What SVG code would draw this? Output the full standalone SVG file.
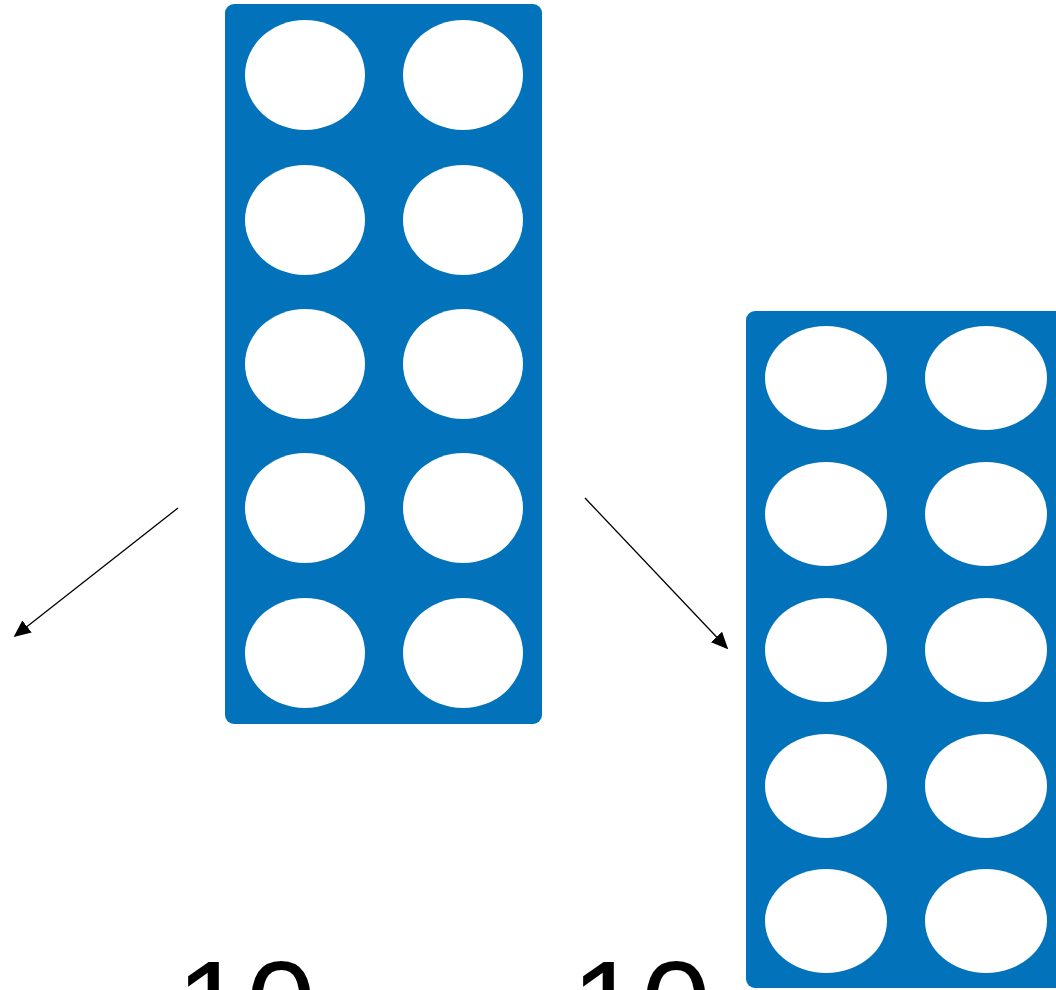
<svg xmlns="http://www.w3.org/2000/svg" width="1056" height="990" viewBox="0 0 1056 990">
<defs>
<style>
.panel{fill:#0272BA}
.hole{fill:#FFFFFF}
.conn{stroke:#000;stroke-width:1.3;fill:none}
.num{font-family:"Liberation Sans",Arial,sans-serif;font-size:126px;fill:#000}
</style>
<marker id="ah" viewBox="0 0 10 10" refX="9" refY="5" markerWidth="17" markerHeight="17" markerUnits="userSpaceOnUse" orient="auto">
<path d="M0,0.5 L10,5 L0,9.5 z" fill="#000"/>
</marker>
</defs>
<rect width="1056" height="990" fill="#fff"/>
<g id="frame-left">
<rect class="panel" x="225" y="4" width="317" height="720" rx="9"/>
<ellipse class="hole" cx="305" cy="75" rx="60" ry="55"/>
<ellipse class="hole" cx="463" cy="75" rx="60" ry="55"/>
<ellipse class="hole" cx="305" cy="220" rx="60" ry="55"/>
<ellipse class="hole" cx="463" cy="220" rx="60" ry="55"/>
<ellipse class="hole" cx="305" cy="364" rx="60" ry="55"/>
<ellipse class="hole" cx="463" cy="364" rx="60" ry="55"/>
<ellipse class="hole" cx="305" cy="508" rx="60" ry="55"/>
<ellipse class="hole" cx="463" cy="508" rx="60" ry="55"/>
<ellipse class="hole" cx="305" cy="653" rx="60" ry="55"/>
<ellipse class="hole" cx="463" cy="653" rx="60" ry="55"/>
</g>
<g id="frame-right">
<rect class="panel" x="746" y="311" width="330" height="677" rx="9"/>
<ellipse class="hole" cx="826" cy="378" rx="61" ry="52"/>
<ellipse class="hole" cx="986" cy="378" rx="61" ry="52"/>
<ellipse class="hole" cx="826" cy="514" rx="61" ry="52"/>
<ellipse class="hole" cx="986" cy="514" rx="61" ry="52"/>
<ellipse class="hole" cx="826" cy="650" rx="61" ry="52"/>
<ellipse class="hole" cx="986" cy="650" rx="61" ry="52"/>
<ellipse class="hole" cx="826" cy="786" rx="61" ry="52"/>
<ellipse class="hole" cx="986" cy="786" rx="61" ry="52"/>
<ellipse class="hole" cx="826" cy="921" rx="61" ry="52"/>
<ellipse class="hole" cx="986" cy="921" rx="61" ry="52"/>
</g>
<g id="connectors">
<line class="conn" x1="178" y1="508" x2="15" y2="636" marker-end="url(#ah)"/>
<line class="conn" x1="585" y1="498" x2="727" y2="648" marker-end="url(#ah)"/>
</g>
<g id="labels">
<text class="num" x="176" y="1049">10</text>
<text class="num" x="571" y="1049">10</text>
</g>
</svg>
